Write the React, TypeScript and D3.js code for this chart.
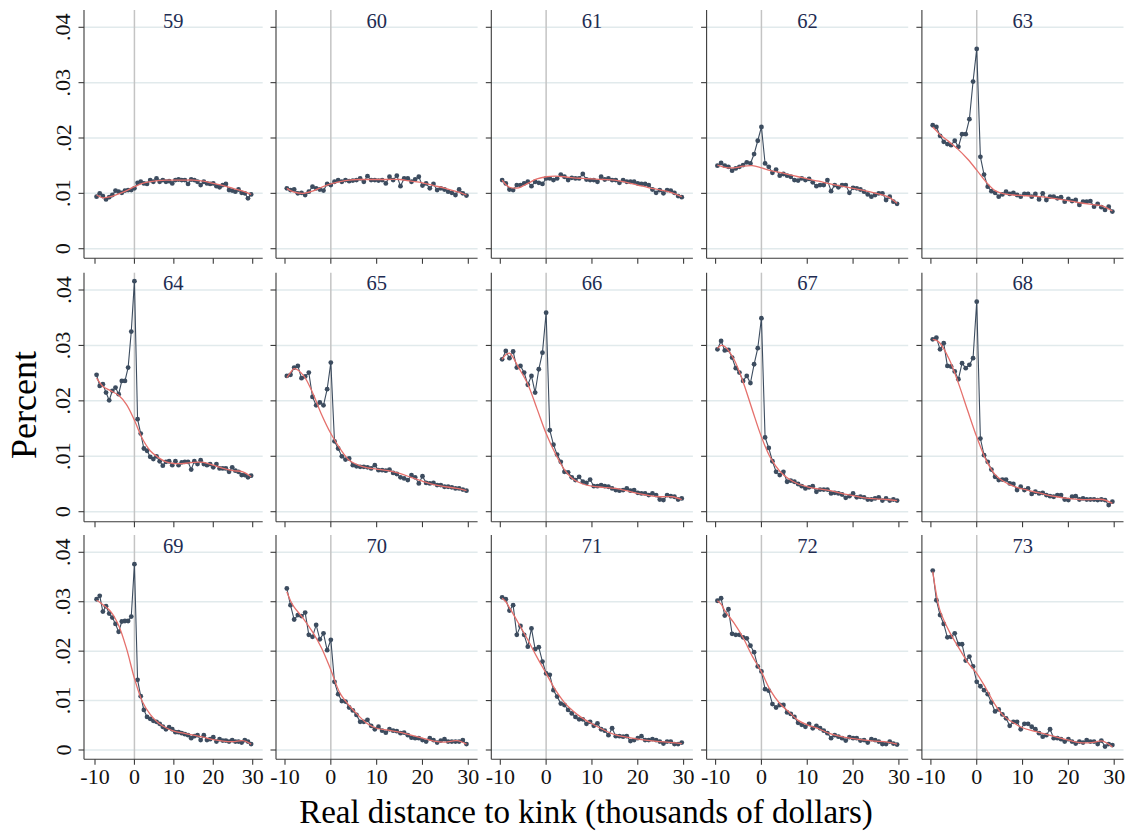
import React from 'react';
import * as d3 from 'd3';

// ---------- data (values in thousandths of a percent) ----------
const AGES = [59, 60, 61, 62, 63, 64, 65, 66, 67, 68, 69, 70, 71, 72, 73];

const BIN_X = [-9.6, -8.8, -8, -7.2, -6.4, -5.6, -4.8, -4, -3.2, -2.4, -1.6, -0.8, 0,
  0.8, 1.6, 2.4, 3.2, 4, 4.8, 5.6, 6.4, 7.2, 8, 8.8, 9.6, 10.4, 11.2, 12, 12.8, 13.6, 14.4,
  15.2, 16, 16.8, 17.6, 18.4, 19.2, 20, 20.8, 21.6, 22.4, 23.2, 24, 24.8, 25.6, 26.4, 27.2,
  28, 28.8, 29.6];

const FIT_X = [-9.6, -8.8, -8, -6, -4, -2, 0, 2, 4, 6, 8, 10, 12.5, 15, 17.5, 20, 22.5, 25, 27.5, 29.6];

const P59 = [9.4, 10.0, 9.5, 8.9, 9.3, 9.7, 10.5, 10.3, 10.1, 10.5, 10.6, 10.6, 10.9, 11.9, 12.1, 11.8, 11.7, 12.4, 12.1, 12.7, 12.1, 12.4, 12.1, 12.2, 11.8, 12.4, 12.5, 12.4, 12.4, 11.7, 12.5, 12.4, 12.1, 11.5, 12.1, 11.8, 11.7, 11.8, 11.3, 11.1, 11.5, 11.7, 10.6, 10.5, 10.3, 10.7, 10.1, 10.0, 9.1, 9.8];
const F59 = [9.7, 9.4, 9.2, 9.4, 9.9, 10.5, 11.2, 11.8, 12.1, 12.3, 12.4, 12.4, 12.4, 12.4, 12.2, 11.8, 11.4, 10.9, 10.4, 9.8];

const P60 = [10.9, 10.6, 10.7, 10.0, 10.1, 9.7, 10.3, 11.2, 10.9, 10.7, 10.5, 11.7, 11.5, 12.1, 12.4, 12.1, 12.4, 12.2, 12.3, 12.4, 12.7, 12.1, 13.1, 12.4, 12.4, 12.3, 12.4, 11.8, 13.0, 12.4, 13.2, 11.3, 12.7, 12.7, 12.1, 12.5, 13.0, 11.4, 11.8, 10.9, 11.7, 10.6, 10.9, 10.7, 10.3, 10.1, 9.7, 10.7, 10.0, 9.6];
const F60 = [10.9, 10.5, 10.2, 10.0, 10.4, 11.1, 11.7, 12.1, 12.4, 12.5, 12.5, 12.5, 12.5, 12.5, 12.2, 11.9, 11.4, 10.9, 10.3, 9.7];

const P61 = [12.4, 11.8, 10.7, 10.6, 11.5, 11.5, 11.8, 12.1, 11.3, 12.1, 11.9, 11.7, 12.7, 12.7, 12.4, 12.7, 13.4, 13.0, 12.4, 12.8, 12.7, 12.7, 13.5, 12.5, 12.4, 12.4, 12.1, 13.0, 12.5, 12.7, 12.4, 12.4, 11.9, 12.4, 12.1, 12.1, 12.1, 11.8, 11.7, 11.7, 11.5, 10.7, 10.1, 10.6, 10.0, 10.6, 10.5, 10.1, 9.5, 9.3];
const F61 = [12.4, 11.6, 11.1, 11.0, 11.8, 12.6, 13.0, 13.1, 13.0, 12.8, 12.7, 12.6, 12.5, 12.4, 12.0, 11.5, 11.0, 10.6, 10.1, 9.4];

const P62 = [15.0, 15.5, 15.0, 14.8, 14.1, 14.5, 14.8, 15.1, 15.6, 15.4, 17.1, 19.5, 22.0, 15.4, 14.8, 13.7, 14.3, 13.2, 13.5, 13.2, 13.0, 12.4, 12.3, 12.7, 12.4, 12.6, 12.0, 11.3, 11.5, 11.5, 12.4, 10.4, 11.5, 11.1, 11.5, 11.5, 10.1, 11.0, 10.9, 10.7, 10.3, 9.8, 9.4, 9.7, 10.0, 10.0, 8.8, 9.4, 8.5, 8.1];
const F62 = [15.1, 14.9, 14.7, 14.6, 14.9, 15.0, 14.6, 14.1, 13.8, 13.4, 13.0, 12.6, 12.2, 11.7, 11.3, 10.9, 10.5, 10.0, 9.4, 8.2];

const P63 = [22.3, 22.0, 20.4, 19.3, 18.9, 18.7, 19.5, 18.4, 20.7, 20.7, 23.4, 30.2, 36.1, 16.6, 13.4, 11.2, 10.4, 10.1, 9.4, 9.8, 10.3, 9.9, 10.1, 9.7, 9.4, 9.9, 9.9, 9.4, 9.9, 8.9, 10.0, 8.8, 9.4, 9.4, 9.1, 9.3, 8.5, 9.0, 8.6, 8.8, 7.9, 8.5, 8.5, 8.6, 7.6, 8.1, 7.5, 7.0, 7.6, 6.7];
const F63 = [22.0, 21.3, 20.6, 19.3, 17.9, 16.2, 14.2, 12.1, 10.5, 9.9, 9.7, 9.6, 9.5, 9.3, 9.0, 8.7, 8.3, 8.0, 7.7, 6.8];

const P64 = [24.7, 22.7, 23.0, 21.5, 20.1, 21.8, 22.4, 21.2, 23.6, 23.6, 26.0, 32.5, 41.6, 16.7, 14.1, 11.4, 11.0, 9.9, 9.5, 10.0, 9.1, 8.3, 9.0, 9.1, 8.4, 9.1, 8.4, 8.9, 9.0, 9.0, 7.6, 9.1, 8.6, 9.3, 8.6, 8.4, 8.6, 8.0, 8.6, 7.8, 7.8, 7.8, 7.2, 8.0, 7.4, 7.2, 6.6, 6.6, 6.2, 6.5];
const F64 = [24.1, 23.3, 22.6, 21.8, 21.0, 19.3, 16.5, 13.2, 11.0, 9.8, 9.0, 8.7, 8.7, 8.9, 8.9, 8.4, 7.8, 7.4, 7.2, 6.3];

const P65 = [24.5, 24.7, 26.0, 26.3, 24.1, 24.4, 25.1, 20.7, 19.2, 19.7, 19.2, 22.1, 26.9, 12.7, 11.4, 10.0, 9.4, 9.6, 8.4, 8.2, 8.1, 8.1, 8.0, 7.8, 8.4, 7.5, 7.5, 7.4, 7.6, 7.0, 6.8, 6.2, 6.0, 5.7, 6.6, 6.2, 5.1, 6.4, 5.2, 5.1, 5.2, 4.8, 4.8, 4.5, 4.5, 4.4, 4.2, 4.2, 4.0, 3.8];
const F65 = [24.2, 25.1, 25.8, 24.6, 21.5, 17.5, 14.1, 11.4, 9.3, 8.4, 7.9, 7.7, 7.4, 6.9, 6.2, 5.5, 4.9, 4.5, 4.2, 3.8];

const P66 = [27.5, 29.0, 27.7, 28.9, 26.0, 26.3, 25.1, 22.9, 24.5, 21.5, 25.7, 28.7, 35.9, 14.7, 12.1, 10.3, 9.0, 7.2, 7.1, 6.2, 5.7, 6.3, 5.4, 5.2, 5.8, 4.6, 4.6, 4.8, 4.6, 4.5, 4.2, 3.9, 3.8, 3.9, 4.2, 3.8, 3.9, 3.4, 3.3, 3.3, 3.0, 3.3, 3.0, 2.2, 2.1, 3.0, 2.8, 2.7, 2.2, 2.4];
const F66 = [27.5, 28.3, 28.6, 26.0, 23.0, 18.6, 14.1, 10.5, 7.6, 5.8, 5.0, 4.6, 4.4, 4.2, 3.8, 3.3, 2.9, 2.7, 2.7, 2.2];

const P67 = [29.3, 30.8, 29.1, 29.2, 27.8, 25.9, 25.1, 23.6, 24.5, 23.2, 26.6, 29.5, 34.9, 13.4, 11.5, 9.1, 7.2, 6.6, 7.2, 5.4, 5.6, 5.4, 5.0, 4.6, 4.2, 4.4, 4.6, 3.6, 4.0, 4.0, 4.0, 3.3, 3.4, 3.3, 3.1, 2.5, 2.8, 3.3, 2.6, 2.7, 2.6, 2.2, 2.2, 2.4, 2.6, 2.0, 2.4, 2.0, 2.2, 2.0];
const F67 = [29.5, 30.0, 29.8, 27.5, 23.4, 18.4, 13.5, 9.7, 7.3, 5.9, 5.0, 4.5, 4.1, 3.8, 3.3, 2.9, 2.5, 2.3, 2.2, 2.0];

const P68 = [31.1, 31.4, 29.3, 30.4, 26.3, 26.2, 25.3, 23.9, 26.8, 25.9, 26.5, 27.7, 37.9, 13.2, 10.2, 9.0, 7.6, 6.3, 5.7, 5.8, 5.8, 5.1, 5.0, 3.9, 4.5, 3.9, 4.2, 3.2, 3.6, 3.3, 3.4, 3.0, 2.8, 2.7, 3.0, 3.0, 2.2, 2.1, 2.7, 2.8, 2.2, 2.4, 2.2, 2.2, 2.2, 2.1, 2.2, 2.1, 1.2, 1.8];
const F68 = [31.1, 30.9, 30.4, 27.5, 23.2, 18.3, 13.5, 9.4, 6.7, 5.4, 4.6, 4.1, 3.6, 3.1, 2.7, 2.4, 2.2, 2.2, 2.2, 1.5];

const P69 = [30.5, 31.2, 28.0, 29.1, 27.6, 26.8, 25.5, 23.9, 26.0, 26.1, 26.1, 27.0, 37.6, 14.2, 10.9, 8.1, 6.7, 6.3, 5.9, 5.7, 5.3, 4.7, 4.2, 4.6, 4.2, 3.6, 3.6, 3.4, 3.2, 3.0, 2.4, 2.8, 3.0, 2.0, 3.0, 2.0, 2.2, 2.6, 1.7, 2.2, 1.9, 1.9, 1.7, 2.0, 1.7, 1.7, 1.5, 2.0, 1.7, 1.2];
const F69 = [30.3, 29.9, 29.4, 28.0, 25.2, 20.5, 14.5, 9.8, 7.2, 5.5, 4.5, 3.8, 3.4, 3.0, 2.6, 2.1, 1.8, 1.7, 1.9, 1.2];

const P70 = [32.7, 29.3, 26.4, 27.3, 27.1, 27.8, 23.3, 22.9, 25.3, 22.4, 23.6, 20.2, 22.3, 13.8, 11.3, 9.9, 9.8, 8.6, 8.0, 7.1, 5.7, 5.7, 6.1, 4.9, 4.2, 4.7, 3.9, 3.5, 4.2, 3.9, 3.8, 3.4, 3.5, 3.0, 2.5, 2.4, 2.4, 2.0, 1.7, 2.4, 2.0, 1.5, 1.9, 2.2, 1.7, 1.7, 1.7, 1.7, 2.0, 1.2];
const F70 = [32.0, 30.2, 28.9, 26.6, 23.9, 20.6, 16.2, 11.5, 9.0, 7.0, 5.3, 4.4, 4.0, 3.6, 3.0, 2.4, 1.8, 1.6, 1.9, 1.2];

const P71 = [30.9, 30.5, 28.2, 29.3, 23.3, 25.1, 23.3, 20.9, 24.6, 20.4, 20.8, 17.9, 15.5, 15.2, 12.1, 10.8, 9.4, 9.1, 8.1, 7.4, 6.7, 6.2, 6.2, 5.3, 5.7, 4.9, 5.4, 4.2, 3.9, 3.0, 4.4, 2.8, 2.8, 2.7, 2.8, 1.8, 2.0, 2.4, 2.8, 2.0, 2.0, 2.2, 2.0, 1.7, 1.3, 1.7, 1.7, 1.2, 1.2, 1.5];
const F71 = [30.7, 30.0, 28.8, 25.6, 22.3, 18.8, 15.5, 12.2, 9.6, 7.8, 6.4, 5.3, 4.1, 3.1, 2.6, 2.2, 1.9, 1.7, 1.5, 1.3];

const P72 = [30.2, 30.7, 27.2, 28.5, 23.5, 23.3, 23.3, 22.8, 22.6, 21.1, 19.8, 16.9, 15.9, 12.3, 12.0, 9.3, 8.6, 9.1, 9.1, 7.6, 7.3, 6.7, 5.5, 5.1, 4.7, 5.3, 4.4, 4.9, 4.4, 3.9, 3.4, 2.4, 3.0, 2.7, 2.4, 1.9, 2.6, 2.4, 2.4, 1.9, 2.0, 1.5, 2.2, 2.0, 1.7, 1.2, 1.2, 1.7, 1.3, 1.1];
const F72 = [30.2, 29.5, 28.2, 25.7, 22.7, 19.0, 15.8, 12.0, 9.4, 7.7, 6.0, 5.1, 4.3, 3.3, 2.7, 2.3, 2.0, 1.8, 1.6, 1.2];

const P73 = [36.3, 30.3, 27.3, 25.5, 22.8, 22.9, 23.6, 21.4, 21.4, 18.1, 18.9, 16.9, 13.8, 12.9, 12.1, 11.3, 9.6, 7.8, 8.2, 7.2, 6.4, 4.9, 5.7, 5.7, 4.2, 5.3, 5.3, 4.7, 4.2, 3.4, 2.7, 3.0, 4.2, 2.4, 2.4, 2.2, 1.7, 2.2, 1.7, 1.3, 1.7, 1.5, 2.0, 1.7, 1.7, 1.2, 1.9, 0.7, 1.2, 1.0];
const F73 = [36.1, 31.5, 28.2, 24.0, 20.8, 17.8, 15.5, 12.5, 9.2, 6.8, 5.5, 4.5, 3.8, 3.2, 2.6, 2.0, 1.5, 1.5, 1.8, 0.6];

const PANEL_VALUES = [P59, P60, P61, P62, P63, P64, P65, P66, P67, P68, P69, P70, P71, P72, P73];
const PANEL_FITS = [F59, F60, F61, F62, F63, F64, F65, F66, F67, F68, F69, F70, F71, F72, F73];
const VALUE_UNIT = 0.001; // stored values are thousandths of a percent

const Y_TICKS = [0, 0.01, 0.02, 0.03, 0.04];
const Y_TICK_LABELS = ['0', '.01', '.02', '.03', '.04'];
const X_TICKS = [-10, 0, 10, 20, 30];
const X_TICK_LABELS = ['-10', '0', '10', '20', '30'];

const X_TITLE = 'Real distance to kink (thousands of dollars)';
const Y_TITLE = 'Percent';

// ---------- layout ----------
const W = 1128;
const H = 833;
const FONT = "'Liberation Serif', 'Times New Roman', Times, serif";
const DOT = '#3c4c5f';
const FIT = '#e5706c';
const GRID = '#e1eaec';
const AXIS = '#3a3a3a';
const TITLE = '#1e2c52';

function colGeom(c: number) {
  if (c === 0) return { left: 84, right: 262.7, x0: 95, x1: 252.7 };
  const x0 = 285 + 215.3 * (c - 1);
  return { left: x0 - 9, right: x0 + 183.3 + 9.3, x0, x1: x0 + 183.3 };
}

const ROWS = [
  { top: 10, y4: 27.3, y0: 248.7, bottom: 258.3 },
  { top: 272.7, y4: 290, y0: 511.7, bottom: 521.7 },
  { top: 535, y4: 552.3, y0: 750, bottom: 759.3 },
];

function Panel({ idx }: { idx: number }) {
  const c = idx % 5;
  const r = Math.floor(idx / 5);
  const g = colGeom(c);
  const row = ROWS[r];
  const x = d3.scaleLinear().domain([-10, 30]).range([g.x0, g.x1]);
  const y = d3.scaleLinear().domain([0, 0.04]).range([row.y0, row.y4]);

  const vals = PANEL_VALUES[idx];
  const fits = PANEL_FITS[idx];
  const pts: [number, number][] = BIN_X.map((bx, i) => [bx, vals[i] * VALUE_UNIT]);
  const fitPts: [number, number][] = FIT_X.map((fx, i) => [fx, fits[i] * VALUE_UNIT]);

  const dataLine = d3.line<[number, number]>().x(d => x(d[0])).y(d => y(d[1]))(pts) || '';
  const fitLine = d3.line<[number, number]>().x(d => x(d[0])).y(d => y(d[1]))
    .curve(d3.curveCatmullRom.alpha(0.5))(fitPts) || '';

  return (
    <g>
      {Y_TICKS.map(t => (
        <line key={'g' + t} x1={g.left} x2={g.right} y1={y(t)} y2={y(t)} stroke={GRID} strokeWidth={1.5} />
      ))}
      <line x1={x(0)} x2={x(0)} y1={row.top} y2={row.bottom} stroke="#c4c4c4" strokeWidth={1.5} />
      <line x1={g.left} x2={g.left} y1={row.top} y2={row.bottom} stroke={AXIS} strokeWidth={1.1} />
      <line x1={g.left} x2={g.right} y1={row.bottom} y2={row.bottom} stroke={AXIS} strokeWidth={1.1} />
      {Y_TICKS.map(t => (
        <line key={'yt' + t} x1={g.left - 5.5} x2={g.left} y1={y(t)} y2={y(t)} stroke={AXIS} strokeWidth={1.1} />
      ))}
      {X_TICKS.map(t => (
        <line key={'xt' + t} x1={x(t)} x2={x(t)} y1={row.bottom} y2={row.bottom + 5.5} stroke={AXIS} strokeWidth={1.1} />
      ))}
      {c === 0 && Y_TICKS.map((t, i) => (
        <text key={'yl' + t} x={70.5} y={y(t)} transform={`rotate(-90, 70.5, ${y(t)})`} textAnchor="middle"
          fontFamily={FONT} fontSize={22} fill="#111">{Y_TICK_LABELS[i]}</text>
      ))}
      {r === 2 && X_TICKS.map((t, i) => (
        <text key={'xl' + t} x={x(t)} y={784} textAnchor="middle" fontFamily={FONT} fontSize={22} fill="#111">
          {X_TICK_LABELS[i]}
        </text>
      ))}
      <path d={dataLine} fill="none" stroke={DOT} strokeWidth={1.1} />
      {pts.map((p, i) => (
        <circle key={i} cx={x(p[0])} cy={y(p[1])} r={2.4} fill={DOT} />
      ))}
      <path d={fitLine} fill="none" stroke={FIT} strokeWidth={1.3} />
      <text x={(g.left + g.right) / 2} y={row.top + 17.5} textAnchor="middle" fontFamily={FONT} fontSize={20.5}
        fill={TITLE}>{AGES[idx]}</text>
    </g>
  );
}

export default function App() {
  return (
    <svg width={W} height={H} viewBox={`0 0 ${W} ${H}`}
      style={{ position: 'absolute', left: 0, top: 0, background: '#fff' }}>
      <rect x={0} y={0} width={W} height={H} fill="#fff" />
      {AGES.map((_, i) => <Panel key={i} idx={i} />)}
      <text x={36} y={405} transform="rotate(-90, 36, 405)" textAnchor="middle" fontFamily={FONT} fontSize={36} fill="#000">
        {Y_TITLE}
      </text>
      <text x={586} y={823} textAnchor="middle" fontFamily={FONT} fontSize={33} fill="#000">{X_TITLE}</text>
    </svg>
  );
}
